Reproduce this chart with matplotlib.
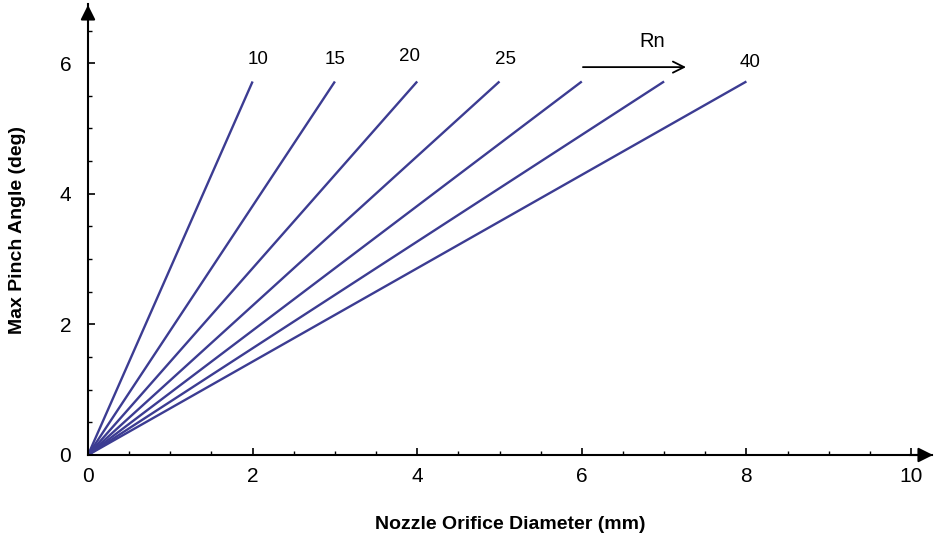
import matplotlib
matplotlib.use('Agg')
import matplotlib.pyplot as plt
from matplotlib.ticker import MultipleLocator

# Nozzle radius values (one line each) and where each line ends
rn_values = [10, 15, 20, 25, 30, 35, 40]
d_end = [2.0, 3.0, 4.0, 5.0, 6.0, 7.0, 8.0]
angle_end = [5.72, 5.72, 5.72, 5.72, 5.72, 5.72, 5.72]

# Curve labels (only some lines are labelled in the original)
label_text = ['10', '15', '20', '25', '40']
label_x = [2.07, 3.00, 3.91, 5.07, 8.04]
label_y = [6.06, 6.06, 6.10, 6.06, 6.01]

LINE_COLOR = '#3c3c92'

plt.rcParams['font.family'] = ['Liberation Sans', 'DejaVu Sans']

fig = plt.figure(figsize=(9.4, 5.39), dpi=100)
# data 0 -> 88 px, 1 unit ~ 82.3 px (x) and 65.3 px (y)
x_max, y_max = 10.25, 6.9
ax = fig.add_axes([88 / 940, 84 / 539, x_max * 82.3 / 940, y_max * 65.3 / 539])

for rn, d, a in zip(rn_values, d_end, angle_end):
    ax.plot([0, d], [0, a], color=LINE_COLOR, linewidth=1.7, solid_capstyle='butt')

for t, x, y in zip(label_text, label_x, label_y):
    ax.text(x, y, t, fontsize=13.5, ha='center', va='center')

# Rn arrow
ax.annotate('', xy=(7.3, 5.94), xytext=(5.98, 5.94),
            arrowprops=dict(arrowstyle='->', color='black', lw=1.3,
                            mutation_scale=20))
ax.text(6.85, 6.33, 'Rn', fontsize=14.5, ha='center', va='center')

ax.set_xlim(0, x_max)
ax.set_ylim(0, y_max)

for side in ['top', 'right']:
    ax.spines[side].set_visible(False)
for side in ['left', 'bottom']:
    ax.spines[side].set_linewidth(1.5)

# arrow heads on the axes
ax.annotate('', xy=(1.005, 0), xytext=(0.97, 0), xycoords='axes fraction',
            arrowprops=dict(arrowstyle='-|>', color='black', lw=1.5, mutation_scale=22))
ax.annotate('', xy=(0, 1.005), xytext=(0, 0.96), xycoords='axes fraction',
            arrowprops=dict(arrowstyle='-|>', color='black', lw=1.5, mutation_scale=22))

ax.xaxis.set_minor_locator(MultipleLocator(0.5))
ax.yaxis.set_minor_locator(MultipleLocator(0.5))
ax.set_xticks([0, 2, 4, 6, 8, 10])
ax.set_yticks([0, 2, 4, 6])

ax.tick_params(axis='both', which='major', direction='in', length=5, width=1.2,
               labelsize=15, colors='black')
ax.tick_params(axis='both', which='minor', direction='in', length=3, width=1.0)
ax.tick_params(axis='x', which='major', pad=9)
ax.tick_params(axis='y', which='major', pad=12)

ax.set_xlabel('Nozzle Orifice Diameter (mm)', fontsize=14, fontweight='bold', labelpad=21)
ax.set_ylabel('Max Pinch Angle (deg)', fontsize=14, fontweight='bold', labelpad=24)

fig.savefig('out.png', dpi=100)
plt.close(fig)
